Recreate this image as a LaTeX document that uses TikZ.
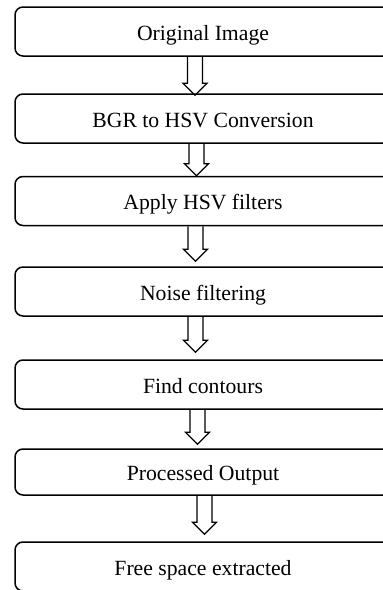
\documentclass[tikz,border=0pt]{standalone}
\usepackage{fontspec}
\setmainfont{Liberation Serif}
\usepackage{tikz}
\usetikzlibrary{calc}

\tikzset{
    stepbox/.style={draw, line width=0.75pt, rounded corners=4pt, minimum width=188pt, inner sep=0pt,
        minimum height=24.5pt, text height=8.7pt, text depth=0pt, align=center,
        font=\fontsize{10.85}{13}\selectfont},
    hollowarrow/.style={draw, line width=0.65pt, line join=miter}
}

% hollow block arrow: from node, to node, x of its axis, gap above the next box
\newcommand{\flowarrow}[4]{%
    \draw[hollowarrow] (#3-7.5,0 |- #1.south) -- ($(#3-7.5,0 |- #2.north)+(0,{-(12+#4)})$)
        -- ($(#3-12,0 |- #2.north)+(0,{-(12+#4)})$) -- ($(#3,0 |- #2.north)+(0,{-(#4)})$)
        -- ($(#3+12,0 |- #2.north)+(0,{-(12+#4)})$) -- ($(#3+7.5,0 |- #2.north)+(0,{-(12+#4)})$)
        -- (#3+7.5,0 |- #1.south);
}

\begin{document}
\begin{tikzpicture}[x=0.5pt, y=-0.5pt]
    \useasboundingbox (0,0) rectangle (383,590);
    \clip (0,0) rectangle (383,590);

    % processing steps
    \node[stepbox] (orig) at (203,31.5) {Original Image};
    \node[stepbox] (conv) at (203,118.5) {BGR to HSV Conversion};
    \node[stepbox] (filt) at (203,201) {Apply HSV filters};
    \node[stepbox] (noise) at (203,291.5) {Noise filtering};
    \node[stepbox] (cont) at (203,384.5) {Find contours};
    \node[stepbox, minimum height=23pt] (outp) at (203,472) {Processed Output};
    \node[stepbox] (free) at (203,566.5) {Free space extracted};

    % arrows between the steps
    \flowarrow{orig}{conv}{195}{-2}
    \flowarrow{conv}{filt}{196.5}{0}
    \flowarrow{filt}{noise}{195.5}{5}
    \flowarrow{noise}{cont}{195.5}{7}
    \flowarrow{cont}{outp}{197.5}{4}
    \flowarrow{outp}{free}{204.5}{7}
\end{tikzpicture}
\end{document}
